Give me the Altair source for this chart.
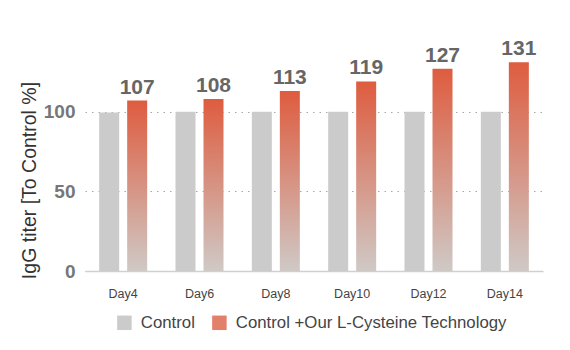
import altair as alt
import pandas as pd

days = ["Day4", "Day6", "Day8", "Day10", "Day12", "Day14"]
control = [99.5, 100, 100, 100, 100, 100]
treated = [107, 108, 113, 119, 127, 131]
series = ["Control", "Control +Our L-Cysteine Technology"]

rows = []
for d, c, t in zip(days, control, treated):
    rows.append({"day": d, "series": series[0], "value": c})
    rows.append({"day": d, "series": series[1], "value": t})
df = pd.DataFrame(rows)

FONT = "Liberation Sans"
GREY = "#cbcbcb"
RED_TOP = "#de5c3f"
RED_BOT = "#cfc9c6"

grad = alt.LinearGradient(
    gradient="linear", x1=0, y1=0, x2=0, y2=1,
    stops=[alt.GradientStop(offset=0, color=RED_TOP),
           alt.GradientStop(offset=1, color=RED_BOT)],
)

x_enc = alt.X("day:N", sort=days,
              scale=alt.Scale(paddingInner=0.266, paddingOuter=0.133),
              axis=alt.Axis(title=None, labelAngle=0, ticks=False, domain=True,
                            domainColor="#d0d0d0", domainWidth=1.5,
                            labelFont=FONT, labelFontSize=12.5, labelColor="#444",
                            labelPadding=16))
xoff = alt.XOffset("series:N", sort=series,
                   scale=alt.Scale(domain=series, paddingInner=0.2857, paddingOuter=0.143))
y_enc = alt.Y("value:Q",
              scale=alt.Scale(domain=[0, 140]),
              axis=alt.Axis(values=[0, 50, 100], title="IgG titer [To Control %]",
                            domain=False, ticks=False,
                            grid=True, gridDash=[1.5, 5], gridColor="#a8a8a8", gridWidth=1.2,
                            labelFont=FONT, labelFontSize=19, labelFontWeight="bold",
                            labelColor="#777", labelPadding=10,
                            titleFont=FONT, titleFontSize=19.5, titleFontWeight="normal",
                            titleColor="#333", titlePadding=4, titleY=132))

base = alt.Chart(df)

ctrl = base.transform_filter(alt.datum.series == series[0]).mark_bar(color=GREY).encode(
    x=x_enc, xOffset=xoff, y=y_enc)

trt = base.transform_filter(alt.datum.series == series[1]).mark_bar(fill=grad).encode(
    x=x_enc, xOffset=xoff, y=y_enc)

labels = base.transform_filter(alt.datum.series == series[1]).mark_text(
    font=FONT, fontSize=21, fontWeight="bold", color="#666", baseline="bottom", dy=-3
).encode(x=x_enc, xOffset=xoff, y=y_enc, text="value:Q")

leg = base.mark_square(size=0, opacity=1, filled=True).encode(
    x=x_enc, xOffset=xoff, y=y_enc,
    color=alt.Color("series:N", sort=series,
                    scale=alt.Scale(domain=series, range=[GREY, "#e2806a"]),
                    legend=alt.Legend(title=None, orient="none", direction="horizontal",
                                      legendX=31, legendY=266,
                                      symbolType="square", symbolSize=210,
                                      symbolStrokeWidth=0,
                                      labelFont=FONT, labelFontSize=16.8, labelColor="#444",
                                      labelOffset=8, columnPadding=16, labelLimit=0)),
)

chart = alt.layer(ctrl, trt, labels, leg).properties(
    width=458, height=223,
    autosize=alt.AutoSizeParams(type="none"),
    padding={"left": 85, "top": 48, "right": 27, "bottom": 79},
).configure(background="white").configure_view(stroke=None)

chart.save("out.html", embed_options={"renderer": "svg", "actions": False})
